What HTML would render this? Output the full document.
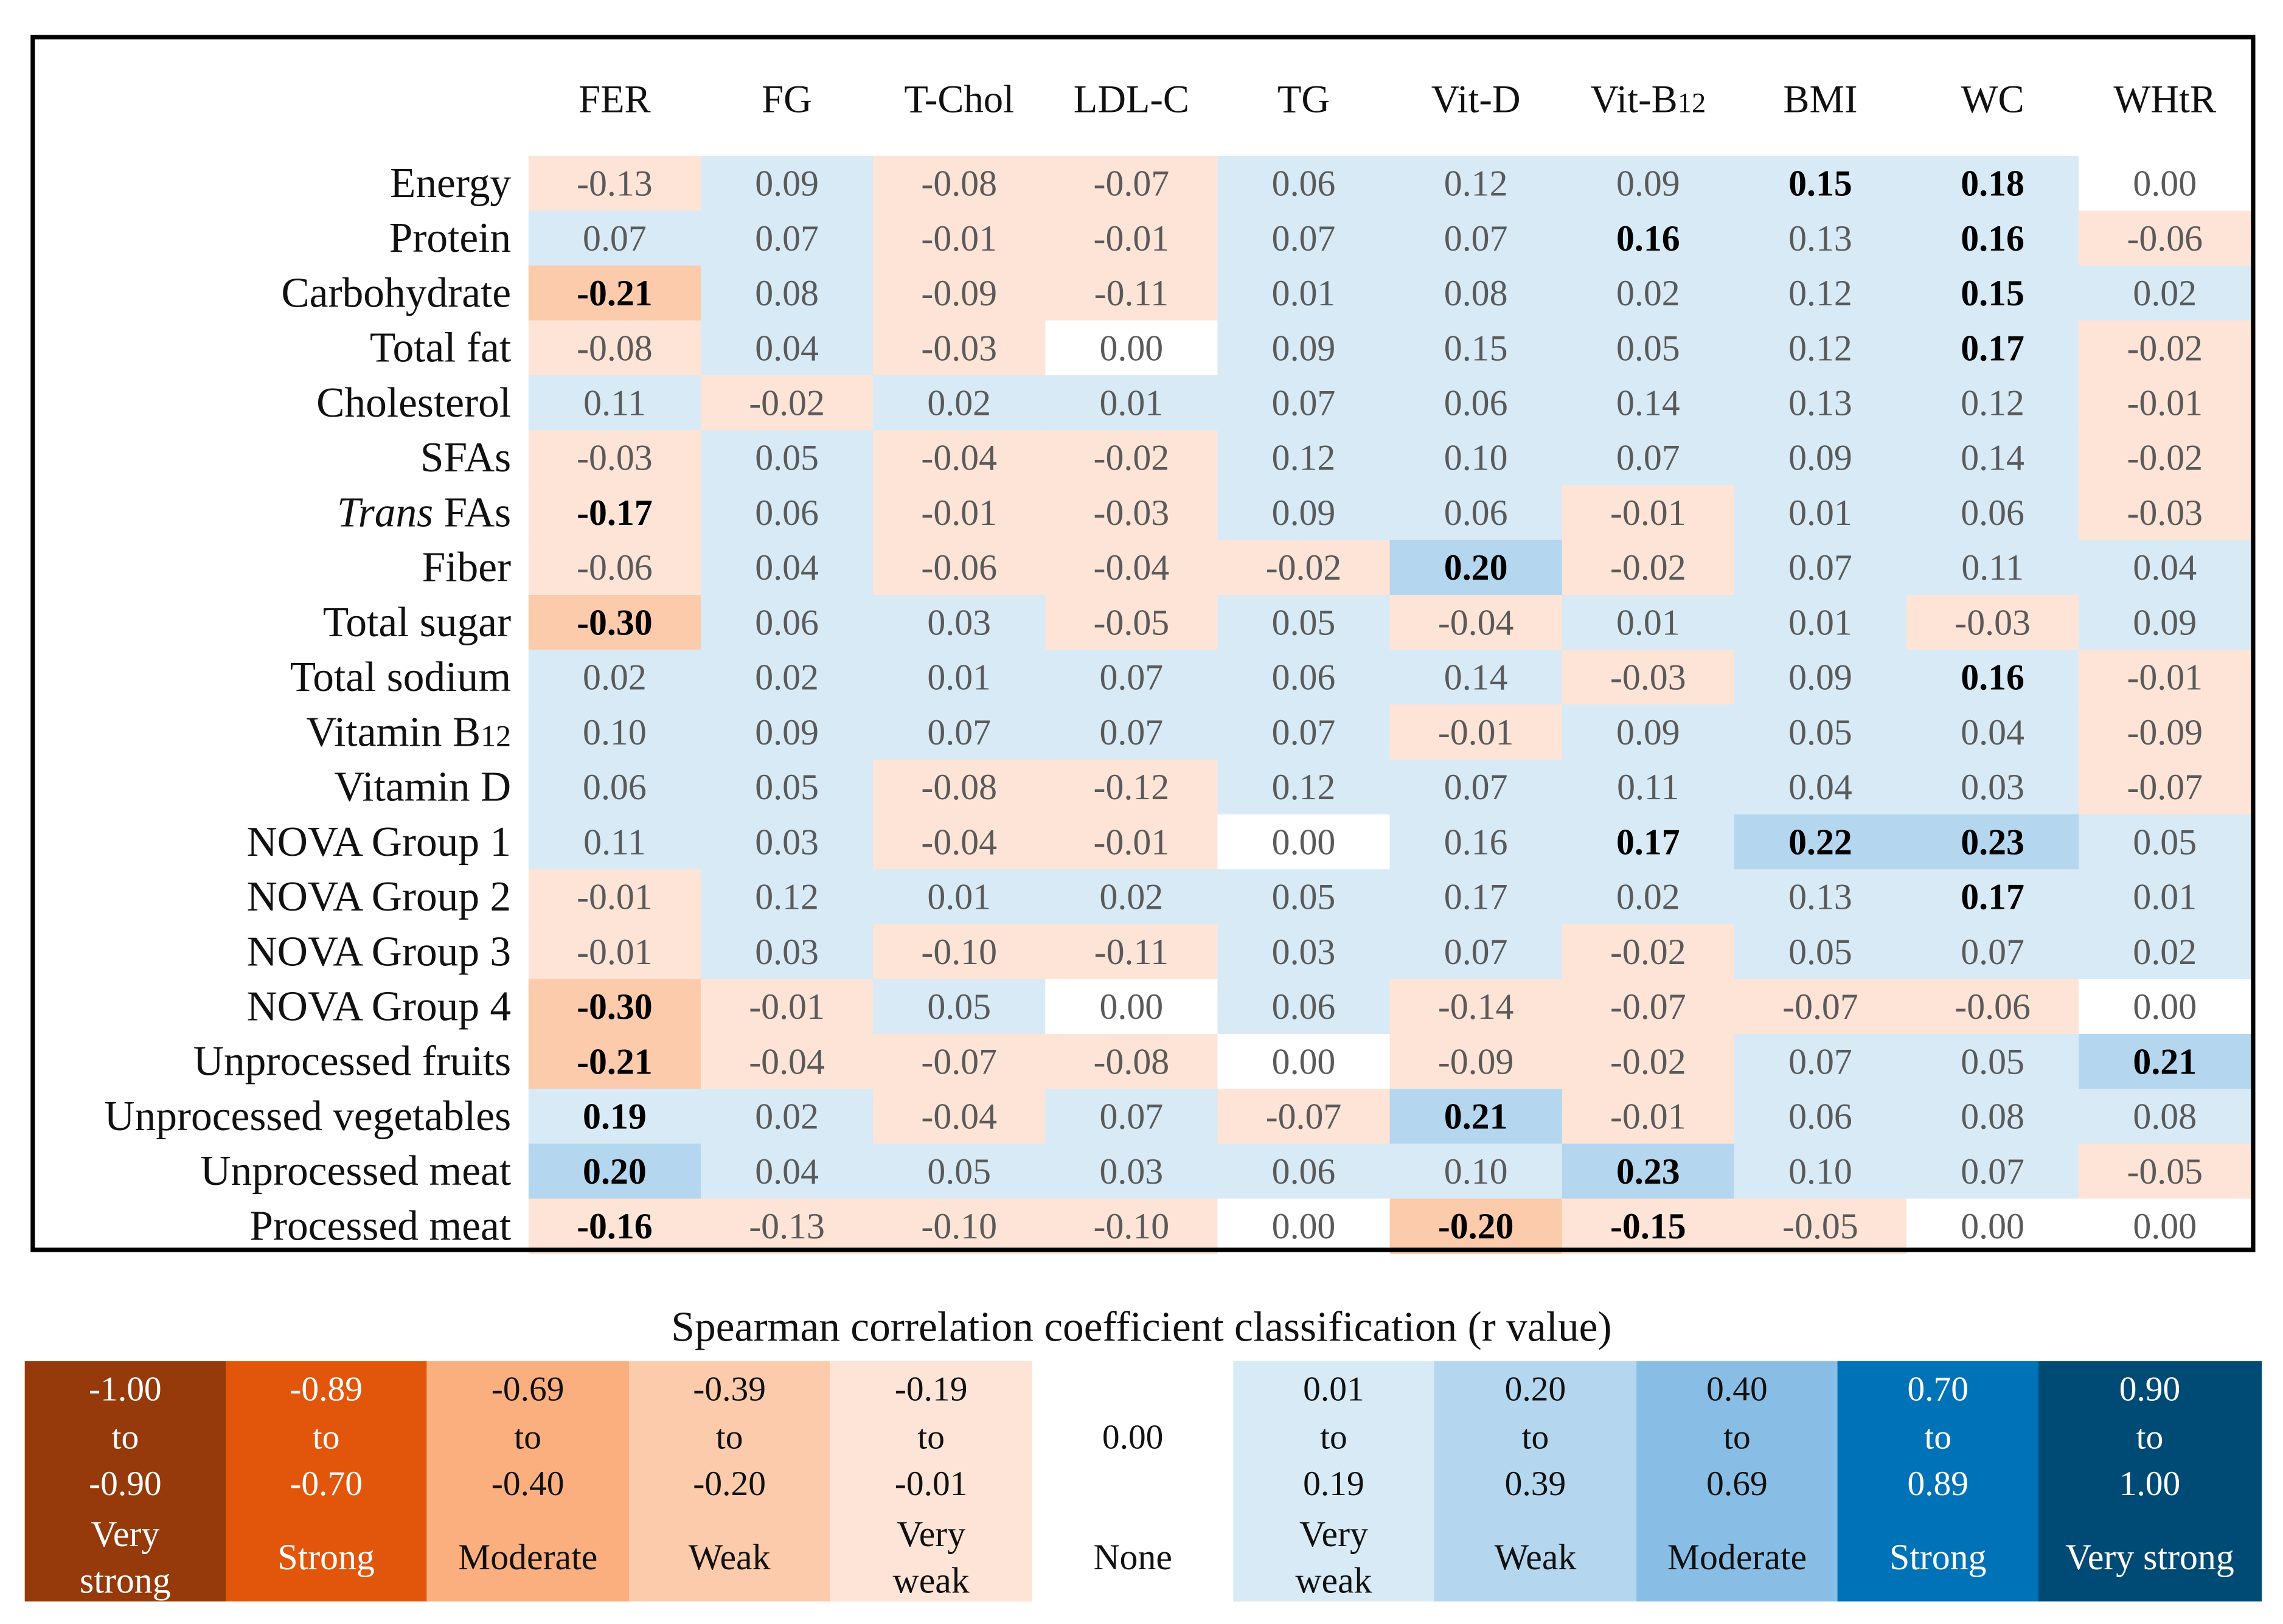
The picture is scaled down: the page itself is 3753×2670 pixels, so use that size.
<!DOCTYPE html>
<html><head><meta charset="utf-8"><style>
html,body{margin:0;padding:0;background:#fff}
svg{display:block}
</style></head><body>
<svg id="chart" width="3753" height="2670" viewBox="0 0 1568 1115.5" preserveAspectRatio="none" xmlns="http://www.w3.org/2000/svg" font-family="'Liberation Serif', serif"></svg>
<script>
const columns = ["FER","FG","T-Chol","LDL-C","TG","Vit-D","Vit-B12","BMI","WC","WHtR"];
const rowsLabels = ["Energy","Protein","Carbohydrate","Total fat","Cholesterol","SFAs","Trans FAs","Fiber","Total sugar","Total sodium","Vitamin B12","Vitamin D","NOVA Group 1","NOVA Group 2","NOVA Group 3","NOVA Group 4","Unprocessed fruits","Unprocessed vegetables","Unprocessed meat","Processed meat"];
const values = [
[-0.13,0.09,-0.08,-0.07,0.06,0.12,0.09,0.15,0.18,0.00],
[0.07,0.07,-0.01,-0.01,0.07,0.07,0.16,0.13,0.16,-0.06],
[-0.21,0.08,-0.09,-0.11,0.01,0.08,0.02,0.12,0.15,0.02],
[-0.08,0.04,-0.03,0.00,0.09,0.15,0.05,0.12,0.17,-0.02],
[0.11,-0.02,0.02,0.01,0.07,0.06,0.14,0.13,0.12,-0.01],
[-0.03,0.05,-0.04,-0.02,0.12,0.10,0.07,0.09,0.14,-0.02],
[-0.17,0.06,-0.01,-0.03,0.09,0.06,-0.01,0.01,0.06,-0.03],
[-0.06,0.04,-0.06,-0.04,-0.02,0.20,-0.02,0.07,0.11,0.04],
[-0.30,0.06,0.03,-0.05,0.05,-0.04,0.01,0.01,-0.03,0.09],
[0.02,0.02,0.01,0.07,0.06,0.14,-0.03,0.09,0.16,-0.01],
[0.10,0.09,0.07,0.07,0.07,-0.01,0.09,0.05,0.04,-0.09],
[0.06,0.05,-0.08,-0.12,0.12,0.07,0.11,0.04,0.03,-0.07],
[0.11,0.03,-0.04,-0.01,0.00,0.16,0.17,0.22,0.23,0.05],
[-0.01,0.12,0.01,0.02,0.05,0.17,0.02,0.13,0.17,0.01],
[-0.01,0.03,-0.10,-0.11,0.03,0.07,-0.02,0.05,0.07,0.02],
[-0.30,-0.01,0.05,0.00,0.06,-0.14,-0.07,-0.07,-0.06,0.00],
[-0.21,-0.04,-0.07,-0.08,0.00,-0.09,-0.02,0.07,0.05,0.21],
[0.19,0.02,-0.04,0.07,-0.07,0.21,-0.01,0.06,0.08,0.08],
[0.20,0.04,0.05,0.03,0.06,0.10,0.23,0.10,0.07,-0.05],
[-0.16,-0.13,-0.10,-0.10,0.00,-0.20,-0.15,-0.05,0.00,0.00]
];
const significant = [
[0,0,0,0,0,0,0,1,1,0],[0,0,0,0,0,0,1,0,1,0],[1,0,0,0,0,0,0,0,1,0],[0,0,0,0,0,0,0,0,1,0],
[0,0,0,0,0,0,0,0,0,0],[0,0,0,0,0,0,0,0,0,0],[1,0,0,0,0,0,0,0,0,0],[0,0,0,0,0,1,0,0,0,0],
[1,0,0,0,0,0,0,0,0,0],[0,0,0,0,0,0,0,0,1,0],[0,0,0,0,0,0,0,0,0,0],[0,0,0,0,0,0,0,0,0,0],
[0,0,0,0,0,0,1,1,1,0],[0,0,0,0,0,0,0,0,1,0],[0,0,0,0,0,0,0,0,0,0],[1,0,0,0,0,0,0,0,0,0],
[1,0,0,0,0,0,0,0,0,1],[1,0,0,0,0,1,0,0,0,0],[1,0,0,0,0,0,1,0,0,0],[1,0,0,0,0,1,1,0,0,0]
];
const legendRanges = [["-1.00","to","-0.90"],["-0.89","to","-0.70"],["-0.69","to","-0.40"],["-0.39","to","-0.20"],["-0.19","to","-0.01"],["","0.00",""],["0.01","to","0.19"],["0.20","to","0.39"],["0.40","to","0.69"],["0.70","to","0.89"],["0.90","to","1.00"]];
const legendLabels = [["Very","strong"],["Strong"],["Moderate"],["Weak"],["Very","weak"],["None"],["Very","weak"],["Weak"],["Moderate"],["Strong"],["Very strong"]];
const legendColors = ["#963a0b","#e2560b","#fbaf7f","#fccbab","#fee4d7","#ffffff","#d7eaf6","#b4d6ef","#88bee5","#0072b8","#004b76"];
const legendText = ["#fff","#fff","#111","#111","#111","#111","#111","#111","#111","#fff","#fff"];

const svg = document.getElementById('chart');
const NS = 'http://www.w3.org/2000/svg';
function mk(tag, attrs){ const e=document.createElementNS(NS,tag); for(const k in attrs) e.setAttribute(k,attrs[k]); svg.appendChild(e); return e; }

const x0 = 363, colW = 118.3, y0 = 107, rowH = 37.7;
const xScale = i => x0 + i*colW;
const yScale = j => y0 + j*rowH;
function color(v){
  if (v <= -0.90) return legendColors[0];
  if (v <= -0.70) return legendColors[1];
  if (v <= -0.40) return legendColors[2];
  if (v <= -0.20) return legendColors[3];
  if (v < 0) return legendColors[4];
  if (v === 0) return legendColors[5];
  if (v < 0.20) return legendColors[6];
  if (v < 0.40) return legendColors[7];
  if (v < 0.70) return legendColors[8];
  if (v < 0.90) return legendColors[9];
  return legendColors[10];
}
function withSub(el, txt){
  const m = txt.match(/^(.*?)(12)$/);
  if (m && (txt.indexOf('B12')>=0)) {
    el.textContent = m[1];
    const t = document.createElementNS(NS,'tspan'); t.setAttribute('font-size','0.72em'); t.textContent='12'; el.appendChild(t);
  } else el.textContent = txt;
}

values.forEach((row,j)=>{
  row.forEach((v,i)=>{
    const r = mk('rect',{x:xScale(i),y:yScale(j),width:colW+0.5,height:rowH+0.5,fill:color(v)});
    
    
    const b = significant[j][i]===1;
    const t = mk('text',{x:xScale(i)+colW/2,y:yScale(j)+rowH/2+8.5,'text-anchor':'middle','font-size':25,fill:b?'#000':'#5a5a5a','font-weight':b?'bold':'normal'});
    t.textContent = v.toFixed(2);
    
    
  });
});
rowsLabels.forEach((lab,j)=>{
  const t = mk('text',{x:351,y:yScale(j)+rowH/2+9.5,'text-anchor':'end','font-size':29,fill:'#111'});
  if (lab==='Trans FAs'){
    const a=document.createElementNS(NS,'tspan'); a.setAttribute('font-style','italic'); a.textContent='Trans'; t.appendChild(a);
    t.appendChild(document.createTextNode(' FAs'));
  } else withSub(t, lab);
  
  
});
columns.forEach((c,i)=>{
  const t = mk('text',{x:xScale(i)+colW/2,y:77,'text-anchor':'middle','font-size':27,fill:'#111'});
  withSub(t,c);
  
  
});
const bd = mk('rect',{x:22.5,y:25.5,width:1525,height:833,fill:'none',stroke:'#000','stroke-width':3});



const lt = mk('text',{x:784,y:921,'text-anchor':'middle','font-size':29,fill:'#111'});
lt.textContent='Spearman correlation coefficient classification (r value)';


const lx = [17,155,293,432,570,709,847,985,1124,1262,1400,1553];
legendColors.forEach((c,i)=>{
  const r = mk('rect',{x:lx[i],y:935,width:lx[i+1]-lx[i]+0.5,height:165,fill:c});
  
  
  const cx = (lx[i]+lx[i+1])/2;
  [953,986,1018].forEach((yy,k)=>{
    if(!legendRanges[i][k]) return;
    const t = mk('text',{x:cx,y:yy+9,'text-anchor':'middle','font-size':24,fill:legendText[i]});
    t.textContent = legendRanges[i][k];
    
    
  });
  const labs = legendLabels[i];
  const ys = labs.length===2 ? [1053,1085] : [1069];
  labs.forEach((l,k)=>{
    const t = mk('text',{x:cx,y:ys[k]+9,'text-anchor':'middle','font-size':25,fill:legendText[i]});
    t.textContent = l;
    
    
  });
});
</script>
</body></html>
